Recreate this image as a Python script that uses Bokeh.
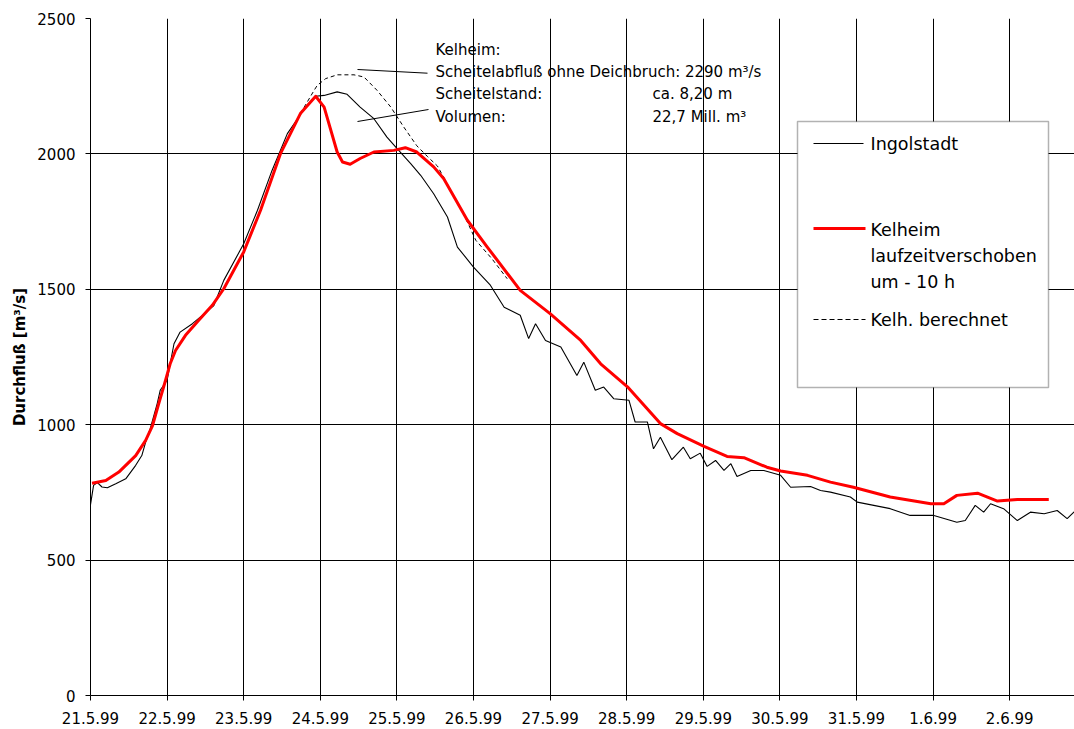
from bokeh.plotting import figure
from bokeh.models import Range1d, FixedTicker, BoxAnnotation, Label, Arrow
from bokeh.embed import file_html
from bokeh.resources import INLINE

# ---------------- data (x = days after 21.5.99 00:00, y = m³/s) ----------------
day_labels = ["21.5.99", "22.5.99", "23.5.99", "24.5.99", "25.5.99", "26.5.99",
              "27.5.99", "28.5.99", "29.5.99", "30.5.99", "31.5.99", "1.6.99", "2.6.99"]
y_ticks = [0, 500, 1000, 1500, 2000, 2500]

ingolstadt_x = [0.00, 0.04, 0.09, 0.15, 0.22, 0.33, 0.46, 0.59, 0.67, 0.72, 0.78, 0.87, 0.91,
                1.00, 1.04, 1.09, 1.17, 1.33, 1.46, 1.61, 1.74, 2.00, 2.18, 2.37, 2.57, 2.78,
                2.94, 3.05, 3.22, 3.35, 3.52, 3.70, 3.87, 4.00, 4.18, 4.31, 4.48, 4.66, 4.79,
                5.00, 5.22, 5.40, 5.61, 5.72, 5.81, 5.94, 6.14, 6.35, 6.44, 6.59, 6.70, 6.83,
                7.03, 7.11, 7.27, 7.35, 7.44, 7.59, 7.74, 7.83, 7.96, 8.05, 8.16, 8.27, 8.36,
                8.44, 8.62, 8.79, 9.01, 9.14, 9.40, 9.53, 9.66, 9.92, 10.01, 10.44, 10.70,
                11.01, 11.31, 11.42, 11.55, 11.66, 11.75, 11.92, 12.10, 12.27, 12.45, 12.62,
                12.75, 12.86]
ingolstadt_q = [705, 776, 786, 770, 767, 782, 800, 850, 886, 936, 985, 1077, 1127,
                1164, 1225, 1299, 1342, 1373, 1404, 1440, 1533, 1668, 1792, 1939, 2075, 2161,
                2213, 2216, 2229, 2220, 2173, 2130, 2062, 2020, 1964, 1921, 1853, 1767, 1656,
                1582, 1515, 1434, 1404, 1318, 1373, 1311, 1287, 1182, 1231, 1127, 1139, 1096,
                1090, 1010, 1010, 911, 954, 871, 917, 874, 895, 846, 868, 831, 856,
                809, 831, 831, 813, 769, 772, 757, 751, 733, 714, 690, 665,
                665, 640, 646, 702, 677, 708, 690, 646, 677, 671, 683,
                653, 683]

kelheim_x = [0.02, 0.20, 0.37, 0.59, 0.72, 0.81, 0.89, 0.98, 1.04, 1.11, 1.24, 1.41, 1.59,
             1.74, 2.00, 2.22, 2.48, 2.61, 2.74, 2.94, 3.05, 3.22, 3.29, 3.39, 3.52, 3.70,
             3.96, 4.11, 4.26, 4.48, 4.61, 4.92, 5.18, 5.61, 6.00, 6.40, 6.66, 7.01, 7.44,
             7.66, 8.01, 8.31, 8.53, 8.83, 9.01, 9.36, 9.66, 9.96, 10.44, 10.97, 11.14,
             11.31, 11.58, 11.84, 12.10, 12.51]
kelheim_q = [784, 794, 825, 886, 942, 997, 1077, 1164, 1225, 1274, 1330, 1385, 1441,
             1502, 1638, 1792, 2001, 2075, 2149, 2213, 2173, 2007, 1970, 1962, 1983, 2007,
             2013, 2023, 2007, 1952, 1909, 1755, 1656, 1496, 1410, 1311, 1225, 1140, 1004,
             967, 920, 883, 878, 843, 829, 813, 788, 769, 733, 708, 708,
             739, 747, 718, 724, 724]

berechnet_x = [2.74, 2.92, 2.96, 3.07, 3.22, 3.44, 3.57, 3.74, 3.92, 4.09, 4.26, 4.40,
               4.53, 4.87, 5.03, 5.24, 5.44]
berechnet_q = [2149, 2235, 2253, 2278, 2292, 2292, 2284, 2235, 2173, 2099, 2030, 1990,
               1955, 1779, 1681, 1613, 1539]

# ---------------- layout helpers (page pixels -> data space, for annotations only) ----
FRAME_L, FRAME_B, PX_PER_DAY, PX_PER_Q = 90.0, 695.0, 76.6, 677.0 / 2500.0
def px2x(px):
    return (px - FRAME_L) / PX_PER_DAY
def px2y(py):
    return (FRAME_B - py) / PX_PER_Q

FONT = "DejaVu Sans"

p = figure(width=1074, height=729,
           x_range=Range1d(0, px2x(1074)), y_range=Range1d(0, 2500),
           output_backend="svg", toolbar_location=None,
           min_border_left=90, min_border_right=0, min_border_top=18, min_border_bottom=34)
p.outline_line_color = None
p.background_fill_color = "white"
p.border_fill_color = "white"

# axes
p.xaxis.ticker = FixedTicker(ticks=list(range(len(day_labels))))
p.xaxis.major_label_overrides = {i: lab for i, lab in enumerate(day_labels)}
p.yaxis.ticker = FixedTicker(ticks=y_ticks)
for ax in (p.xaxis[0], p.yaxis[0]):
    ax.axis_line_color = "black"
    ax.axis_line_width = 1
    ax.major_tick_line_color = "black"
    ax.major_tick_out = 5
    ax.major_tick_in = 0
    ax.minor_tick_line_color = None
    ax.major_label_text_font = FONT
    ax.major_label_text_font_size = "15px"
    ax.major_label_text_color = "black"
p.xaxis.major_label_standoff = 11
p.yaxis.major_label_standoff = 10
p.yaxis.axis_label = "Durchfluß [m³/s]"
p.yaxis.axis_label_text_font = FONT
p.yaxis.axis_label_text_font_style = "bold"
p.yaxis.axis_label_text_font_size = "15px"
p.yaxis.axis_label_text_color = "black"
p.yaxis.axis_label_standoff = 5

# grid
p.xgrid.ticker = FixedTicker(ticks=list(range(len(day_labels))))
p.ygrid.ticker = FixedTicker(ticks=y_ticks)
for g in (p.xgrid[0], p.ygrid[0]):
    g.grid_line_color = "black"
    g.grid_line_width = 1
    g.grid_line_alpha = 1.0

# series
p.line(berechnet_x, berechnet_q, line_color="black", line_width=1, line_dash="4 3")
p.line(ingolstadt_x, ingolstadt_q, line_color="black", line_width=1.1)
p.line(kelheim_x, kelheim_q, line_color="#ff0000", line_width=3, line_join="round")

# legend (drawn manually)
p.add_layout(BoxAnnotation(left=px2x(797), right=px2x(1048), top=px2y(121), bottom=px2y(387),
                           fill_color="white", fill_alpha=1.0, line_color="black",
                           line_width=1.5))
p.add_layout(Arrow(x_start=px2x(813), y_start=px2y(143), x_end=px2x(863), y_end=px2y(143),
                   end=None, line_color="black", line_width=1))
p.add_layout(Arrow(x_start=px2x(813), y_start=px2y(228), x_end=px2x(865), y_end=px2y(228),
                   end=None, line_color="#ff0000", line_width=3))
p.add_layout(Arrow(x_start=px2x(813), y_start=px2y(319), x_end=px2x(865), y_end=px2y(319),
                   end=None, line_color="black", line_width=1, line_dash="5 3"))
legend_texts = [("Ingolstadt", 143), ("Kelheim", 229), ("laufzeitverschoben", 255.5),
                ("um - 10 h", 281), ("Kelh. berechnet", 319)]
for txt, py in legend_texts:
    p.add_layout(Label(x=px2x(870), y=px2y(py), text=txt, text_baseline="middle",
                       text_align="left", text_font=FONT, text_font_size="17.5px",
                       text_color="black"))

# peak annotation
p.add_layout(Arrow(x_start=px2x(357), y_start=px2y(69), x_end=px2x(427), y_end=px2y(72.7),
                   end=None, line_color="black", line_width=1))
p.add_layout(Arrow(x_start=px2x(357), y_start=px2y(121), x_end=px2x(428), y_end=px2y(109),
                   end=None, line_color="black", line_width=1))
ann_rows = [("Kelheim:", None, 49), ("Scheitelabfluß ohne Deichbruch: 2290 m³/s", None, 71.7),
            ("Scheitelstand:", "ca. 8,20 m", 93.3), ("Volumen:", "22,7 Mill. m³", 116)]
for left_txt, right_txt, py in ann_rows:
    p.add_layout(Label(x=px2x(435), y=px2y(py), text=left_txt, text_baseline="middle",
                       text_font=FONT, text_font_size="15px", text_color="black"))
    if right_txt:
        p.add_layout(Label(x=px2x(652), y=px2y(py), text=right_txt, text_baseline="middle",
                           text_font=FONT, text_font_size="15px", text_color="black"))

open("out.html", "w").write(file_html(p, INLINE))
